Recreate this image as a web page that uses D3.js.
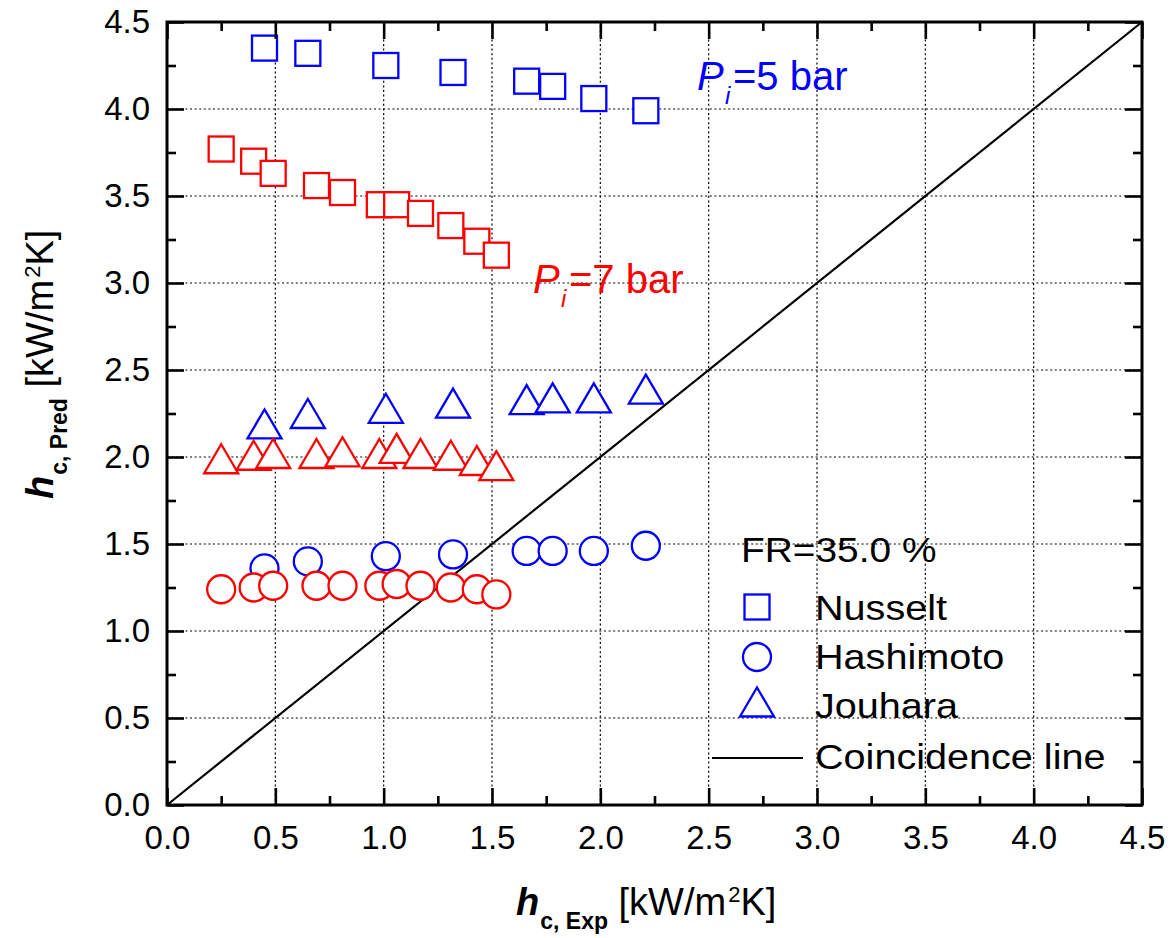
<!DOCTYPE html>
<html><head><meta charset="utf-8">
<script src="https://cdn.jsdelivr.net/npm/d3@7"></script>
<style>
body{margin:0;background:#fff}
svg{display:block}
text{font-family:Arial,"Liberation Sans",sans-serif}
</style>
</head><body>
<svg id="c" width="1171" height="938"></svg>
<script>
// ---- data ----
const majorTicks = [0, 0.5, 1.0, 1.5, 2.0, 2.5, 3.0, 3.5, 4.0, 4.5];
const minorTicks = [0.25, 0.75, 1.25, 1.75, 2.25, 2.75, 3.25, 3.75, 4.25];
const gridValues = [0.5, 1.0, 1.5, 2.0, 2.5, 3.0, 3.5, 4.0];

const hExp5 = [0.45, 0.65, 1.01, 1.32, 1.66, 1.78, 1.97, 2.21];
const nusselt5 = [4.35, 4.32, 4.25, 4.21, 4.16, 4.13, 4.06, 3.99];
const hashimoto5 = [1.36, 1.40, 1.43, 1.44, 1.46, 1.46, 1.46, 1.49];
const jouhara5 = [2.19, 2.25, 2.28, 2.31, 2.33, 2.34, 2.34, 2.39];

const hExp7 = [0.25, 0.40, 0.49, 0.69, 0.81, 0.98, 1.06, 1.17, 1.31, 1.43, 1.52];
const nusselt7 = [3.77, 3.70, 3.63, 3.56, 3.52, 3.45, 3.45, 3.40, 3.33, 3.24, 3.16];
const hashimoto7 = [1.24, 1.25, 1.26, 1.26, 1.26, 1.26, 1.27, 1.26, 1.25, 1.24, 1.21];
const jouhara7 = [1.99, 2.01, 2.02, 2.02, 2.03, 2.02, 2.05, 2.02, 2.01, 1.98, 1.95];

const coincidence = [[0, 0], [4.5, 4.5]];
const legendLabels = ["Nusselt", "Hashimoto", "Jouhara", "Coincidence line"];

// ---- setup ----
const svg = d3.select("#c");
const x = d3.scaleLinear().domain([0, 4.5]).range([167, 1142]);
const y = d3.scaleLinear().domain([0, 4.5]).range([805, 22]);

// grid
const grid = svg.append("g").attr("stroke", "#000").attr("stroke-width", 1.2).attr("stroke-dasharray", "2,2.6");
grid.selectAll("line.gx").data(gridValues).join("line").attr("class", "gx")
  .attr("x1", d => x(d)).attr("x2", d => x(d)).attr("y1", y(0)).attr("y2", y(4.5));
grid.selectAll("line.gy").data(gridValues).join("line").attr("class", "gy")
  .attr("y1", d => y(d)).attr("y2", d => y(d)).attr("x1", x(0)).attr("x2", x(4.5));

// coincidence line
svg.append("path").datum(coincidence)
  .attr("d", d3.line().x(d => x(d[0])).y(d => y(d[1])))
  .attr("fill", "none").attr("stroke", "#000").attr("stroke-width", 2.2);

// markers
const SQ = 25, CR = 14, TW = 34, TH = 29;
function shape(g, type) {
  if (type === "square") {
    g.append("rect").attr("x", -SQ / 2).attr("y", -SQ / 2).attr("width", SQ).attr("height", SQ);
  } else if (type === "circle") {
    g.append("circle").attr("r", CR);
  } else {
    g.append("path").attr("d", `M0,${-TH / 2}L${TW / 2},${TH / 2}L${-TW / 2},${TH / 2}Z`);
  }
}
function series(xs, ys, type, color) {
  const g = svg.append("g");
  xs.forEach((xv, i) => {
    const m = g.append("g").attr("transform", `translate(${x(xv)},${y(ys[i])})`)
      .attr("fill", "#fff").attr("stroke", color).attr("stroke-width", 2.3);
    shape(m, type);
  });
}
series(hExp5, nusselt5, "square", "#0000ff");
series(hExp7, nusselt7, "square", "#ff0000");
series(hExp5, hashimoto5, "circle", "#0000ff");
series(hExp7, hashimoto7, "circle", "#ff0000");
series(hExp5, jouhara5, "triangle", "#0000ff");
series(hExp7, jouhara7, "triangle", "#ff0000");

// axes
const fmt = d3.format(".1f");
function styleAxis(g) {
  g.select(".domain").remove();
  g.selectAll(".tick line").attr("stroke", "#000").attr("stroke-width", 2.6);
  g.selectAll(".tick text").attr("fill", "#000").style("font-size", "33px")
    .style("font-family", "Arial, 'Liberation Sans', sans-serif");
}
svg.append("g").attr("transform", `translate(0,${y(0)})`)
  .call(d3.axisBottom(x).tickValues(majorTicks).tickSizeInner(-17).tickSizeOuter(0).tickPadding(21).tickFormat(fmt))
  .call(styleAxis);
svg.append("g").attr("transform", `translate(0,${y(0)})`)
  .call(d3.axisBottom(x).tickValues(minorTicks).tickSizeInner(-9).tickSizeOuter(0).tickFormat(""))
  .call(styleAxis);
svg.append("g").attr("transform", `translate(0,${y(4.5)})`)
  .call(d3.axisTop(x).tickValues(majorTicks).tickSizeInner(-17).tickSizeOuter(0).tickFormat(""))
  .call(styleAxis);
svg.append("g").attr("transform", `translate(0,${y(4.5)})`)
  .call(d3.axisTop(x).tickValues(minorTicks).tickSizeInner(-9).tickSizeOuter(0).tickFormat(""))
  .call(styleAxis);
svg.append("g").attr("transform", `translate(${x(0)},0)`)
  .call(d3.axisLeft(y).tickValues(majorTicks).tickSizeInner(-17).tickSizeOuter(0).tickPadding(17).tickFormat(fmt))
  .call(styleAxis);
svg.append("g").attr("transform", `translate(${x(0)},0)`)
  .call(d3.axisLeft(y).tickValues(minorTicks).tickSizeInner(-9).tickSizeOuter(0).tickFormat(""))
  .call(styleAxis);
svg.append("g").attr("transform", `translate(${x(4.5)},0)`)
  .call(d3.axisRight(y).tickValues(majorTicks).tickSizeInner(-17).tickSizeOuter(0).tickFormat(""))
  .call(styleAxis);
svg.append("g").attr("transform", `translate(${x(4.5)},0)`)
  .call(d3.axisRight(y).tickValues(minorTicks).tickSizeInner(-9).tickSizeOuter(0).tickFormat(""))
  .call(styleAxis);

// frame
svg.append("rect").attr("x", x(0)).attr("y", y(4.5)).attr("width", x(4.5) - x(0)).attr("height", y(0) - y(4.5))
  .attr("fill", "none").attr("stroke", "#000").attr("stroke-width", 3);

// axis titles
function axisTitle(t, sub) {
  t.append("tspan").attr("font-weight", "bold").attr("font-style", "italic").attr("font-size", 38).text("h");
  t.append("tspan").attr("font-weight", "bold").attr("font-size", 23).attr("dy", 14).attr("dx", 1).text(sub);
  t.append("tspan").attr("font-size", 38).attr("dy", -14).text(" [kW/m");
  t.append("tspan").attr("font-size", 22).attr("dy", -13).attr("dx", 2).text("2");
  t.append("tspan").attr("font-size", 38).attr("dy", 13).text("K]");
}
svg.append("text").attr("x", 516).attr("y", 915).attr("fill", "#000").call(t => axisTitle(t, "c, Exp"));
svg.append("text").attr("transform", "translate(53,499) rotate(-90)").attr("fill", "#000").call(t => axisTitle(t, "c, Pred"));

// pressure labels
function pLabel(px, py, txt, color) {
  const t = svg.append("text").attr("fill", color).attr("font-size", 40);
  t.append("tspan").attr("x", px).attr("y", py).attr("font-style", "italic").text("P");
  t.append("tspan").attr("x", px + 28).attr("y", py + 14).attr("font-style", "italic").attr("font-size", 24).text("i");
  t.append("tspan").attr("x", px + 36).attr("y", py).text(txt);
}
pLabel(697, 90, "=5 bar", "#0000ff");
pLabel(533, 293, "=7 bar", "#ff0000");

// legend
const lg = svg.append("g");
lg.append("text").attr("transform", "translate(741,562) scale(1.08,1)").attr("font-size", 36).attr("fill", "#000").text("FR=35.0 %");
const legTypes = ["square", "circle", "triangle"];
const legSymY = [607, 657, 702];
legTypes.forEach((tp, i) => {
  const m = lg.append("g").attr("transform", `translate(757,${legSymY[i]})`)
    .attr("fill", "#fff").attr("stroke", "#0000ff").attr("stroke-width", 2.3);
  shape(m, tp);
});
lg.append("line").attr("x1", 712).attr("x2", 803).attr("y1", 758).attr("y2", 758).attr("stroke", "#000").attr("stroke-width", 2.2);
const legTextY = [620, 669, 718, 769];
lg.selectAll("text.lt").data(legendLabels).join("text").attr("class", "lt")
  .attr("transform", (d, i) => `translate(815,${legTextY[i]}) scale(1.1,1)`)
  .attr("font-size", 36).attr("fill", "#000").text(d => d);
</script>
</body></html>
